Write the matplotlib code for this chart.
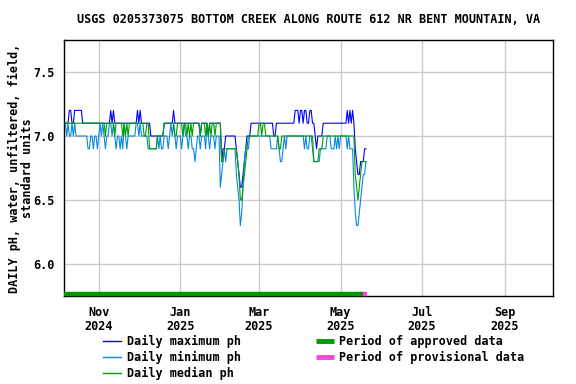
import matplotlib
matplotlib.use("Agg")
import matplotlib.pyplot as plt
from matplotlib.lines import Line2D
import pandas as pd

TITLE = "USGS 0205373075 BOTTOM CREEK ALONG ROUTE 612 NR BENT MOUNTAIN, VA"
YLABEL = "DAILY pH, water, unfiltered, field,\nstandard units"

start_date = "2024-10-07"

daily_max = [
    7.1,7.1,7.1,7.2,7.2,7.1,7.1,7.2,7.2,7.2,
    7.2,7.2,7.2,7.1,7.1,7.1,7.1,7.1,7.1,7.1,
    7.1,7.1,7.1,7.1,7.1,7.1,7.1,7.1,7.1,7.1,
    7.1,7.1,7.1,7.1,7.2,7.1,7.2,7.1,7.1,7.1,
    7.1,7.1,7.1,7.1,7.1,7.1,7.1,7.1,7.1,7.1,
    7.1,7.1,7.1,7.1,7.2,7.1,7.2,7.1,7.1,7.1,
    7.1,7.1,7.1,7.1,7.0,7.0,7.0,7.0,7.0,7.0,
    7.0,7.0,7.0,7.0,7.1,7.1,7.1,7.1,7.1,7.1,
    7.1,7.2,7.1,7.1,7.1,7.1,7.1,7.1,7.1,7.1,
    7.1,7.1,7.1,7.1,7.1,7.1,7.1,7.1,7.1,7.1,
    7.1,7.0,7.1,7.1,7.1,7.1,7.1,7.0,7.1,7.1,
    7.1,7.1,7.1,7.1,7.1,7.1,7.1,6.8,6.9,6.9,
    7.0,7.0,7.0,7.0,7.0,7.0,7.0,7.0,6.9,6.8,
    6.7,6.6,6.6,6.7,6.8,6.9,7.0,7.0,7.0,7.1,
    7.1,7.1,7.1,7.1,7.1,7.1,7.1,7.1,7.1,7.1,
    7.1,7.1,7.1,7.1,7.1,7.1,7.0,7.0,7.1,7.1,
    7.1,7.1,7.1,7.1,7.1,7.1,7.1,7.1,7.1,7.1,
    7.1,7.1,7.2,7.2,7.2,7.1,7.2,7.2,7.1,7.2,
    7.2,7.1,7.1,7.2,7.2,7.1,7.1,7.0,6.9,7.0,
    7.0,7.0,7.0,7.1,7.1,7.1,7.1,7.1,7.1,7.1,
    7.1,7.1,7.1,7.1,7.1,7.1,7.1,7.1,7.1,7.1,
    7.1,7.2,7.1,7.2,7.1,7.2,7.1,6.9,6.8,6.7,
    6.7,6.8,6.8,6.8,6.9,6.9,
]

daily_min = [
    7.1,7.0,7.1,7.0,7.0,7.1,7.0,7.1,7.0,7.0,
    7.0,7.0,7.0,7.0,7.0,7.0,7.0,6.9,6.9,7.0,
    7.0,6.9,7.0,7.0,6.9,7.0,7.1,7.0,7.1,7.0,
    6.9,7.0,7.0,7.1,7.1,7.0,7.1,7.0,6.9,7.0,
    7.0,6.9,7.0,6.9,7.1,7.0,6.9,7.0,7.0,7.0,
    7.0,7.0,7.0,7.1,7.1,7.0,7.1,7.0,7.0,7.0,
    7.0,7.0,6.9,6.9,6.9,6.9,6.9,6.9,6.9,7.0,
    6.9,7.0,6.9,6.9,7.0,7.0,7.0,6.9,7.0,7.1,
    7.0,7.1,7.0,6.9,7.0,7.0,7.0,6.9,7.0,7.1,
    7.0,7.0,6.9,7.0,7.0,6.9,6.9,6.8,6.9,7.0,
    7.0,6.9,7.0,7.0,7.0,6.9,7.1,7.0,6.9,7.0,
    7.0,7.0,6.9,7.0,7.0,7.0,6.6,6.7,6.8,6.9,
    6.8,6.9,6.9,6.9,6.9,6.9,6.9,6.9,6.7,6.6,
    6.5,6.3,6.4,6.6,6.8,6.9,6.9,6.9,7.0,7.0,
    7.0,7.0,7.0,7.0,7.0,7.0,7.0,7.0,7.0,7.0,
    7.0,7.0,7.0,7.0,6.9,6.9,6.9,6.9,6.9,7.0,
    6.9,6.8,6.8,6.9,7.0,6.9,7.0,7.0,7.0,7.0,
    7.0,7.0,7.0,7.0,7.0,7.0,7.0,7.0,7.0,6.9,
    7.0,6.9,6.9,7.0,7.0,6.9,6.8,6.8,6.8,6.8,
    6.8,6.9,6.9,6.9,6.9,6.9,7.0,7.0,7.0,6.9,
    6.9,6.9,7.0,6.9,7.0,6.9,7.0,7.0,7.0,7.0,
    7.0,6.9,7.0,6.9,6.9,6.9,6.6,6.4,6.3,6.3,
    6.4,6.5,6.6,6.7,6.7,6.8,
]

daily_median = [
    7.1,7.1,7.1,7.1,7.1,7.1,7.1,7.1,7.1,7.1,
    7.1,7.1,7.1,7.1,7.1,7.1,7.1,7.1,7.1,7.1,
    7.1,7.1,7.1,7.1,7.1,7.1,7.1,7.1,7.1,7.1,
    7.0,7.1,7.1,7.1,7.1,7.1,7.1,7.0,7.1,7.1,
    7.1,7.1,7.1,7.0,7.1,7.0,7.1,7.0,7.1,7.1,
    7.1,7.1,7.1,7.1,7.1,7.1,7.1,7.1,7.1,7.0,
    7.0,7.1,7.1,6.9,6.9,6.9,6.9,6.9,6.9,7.0,
    7.0,7.0,7.0,7.0,7.1,7.1,7.1,7.1,7.1,7.1,
    7.1,7.1,7.0,7.0,7.1,7.1,7.1,7.1,7.0,7.1,
    7.1,7.0,7.1,7.0,7.1,7.0,7.1,7.1,7.1,7.1,
    7.1,7.0,7.1,7.1,7.1,7.0,7.1,7.0,7.1,7.0,
    7.1,7.1,7.0,7.1,7.1,7.1,7.1,6.8,6.8,6.9,
    6.9,6.9,6.9,6.9,6.9,6.9,6.9,6.9,6.9,6.8,
    6.7,6.5,6.5,6.6,6.7,6.8,6.9,7.0,7.0,7.0,
    7.0,7.0,7.0,7.0,7.0,7.1,7.1,7.0,7.1,7.1,
    7.0,7.0,7.0,7.0,7.0,7.0,7.0,7.0,7.0,7.0,
    6.9,6.9,7.0,7.0,7.0,7.0,7.0,7.0,7.0,7.0,
    7.0,7.0,7.0,7.0,7.0,7.0,7.0,7.0,7.0,7.0,
    7.0,7.0,7.0,7.0,7.0,7.0,6.8,6.8,6.8,6.8,
    6.9,6.9,6.9,7.0,7.0,7.0,7.0,7.0,7.0,7.0,
    7.0,7.0,7.0,7.0,7.0,7.0,7.0,7.0,7.0,7.0,
    7.0,7.0,7.0,7.0,7.0,7.0,7.0,6.7,6.6,6.5,
    6.6,6.7,6.8,6.8,6.8,6.8,
]

approved_period = ("2024-10-06", "2025-05-18")
provisional_period = ("2025-05-18", "2025-05-21")

x_ticks = ["2024-11-01", "2025-01-01", "2025-03-01", "2025-05-01", "2025-07-01", "2025-09-01"]
x_tick_labels = ["Nov\n2024", "Jan\n2025", "Mar\n2025", "May\n2025", "Jul\n2025", "Sep\n2025"]
y_ticks = [6.0, 6.5, 7.0, 7.5]
y_tick_labels = ["6.0", "6.5", "7.0", "7.5"]

legend_left = ["Daily maximum ph", "Daily minimum ph", "Daily median ph"]
legend_right = ["Period of approved data", "Period of provisional data"]

C_MAX = "#0000ff"
C_MIN = "#0a88d8"
C_MED = "#00a000"
C_APP = "#009900"
C_PROV = "#ff44dd"

FONT = "DejaVu Sans Mono"
FS = 8.5

dates = pd.date_range(start_date, periods=len(daily_max), freq="D")

fig = plt.figure(figsize=(5.76, 3.84), dpi=100)
ax = fig.add_axes([64/576, 1-296/384, (553-64)/576, (296-40)/384])

ax.plot(dates, daily_max, color=C_MAX, lw=0.8, zorder=3)
ax.plot(dates, daily_min, color=C_MIN, lw=0.8, zorder=4)
ax.plot(dates, daily_median, color=C_MED, lw=0.8, zorder=5)

trans = matplotlib.transforms.blended_transform_factory(ax.transData, ax.transAxes)
ax.plot(pd.to_datetime(list(approved_period)), [0.008, 0.008], color=C_APP, lw=3.2,
        transform=trans, solid_capstyle="butt", zorder=6, clip_on=False)
ax.plot(pd.to_datetime(list(provisional_period)), [0.008, 0.008], color=C_PROV, lw=3.2,
        transform=trans, solid_capstyle="butt", zorder=6, clip_on=False)

ax.set_xlim(pd.Timestamp("2024-10-06"), pd.Timestamp("2025-10-07"))
ax.set_ylim(5.75, 7.75)
ax.set_xticks(pd.to_datetime(x_ticks))
ax.set_xticklabels(x_tick_labels, fontfamily=FONT, fontweight="bold", fontsize=FS, linespacing=1.15)
ax.set_yticks(y_ticks)
ax.set_yticklabels(y_tick_labels, fontfamily=FONT, fontweight="bold", fontsize=FS)
ax.tick_params(axis="both", length=0)
ax.tick_params(axis="y", pad=7)
ax.tick_params(axis="x", pad=7)
ax.grid(True, color="#cccccc", lw=1.0)
ax.set_axisbelow(True)
for s in ax.spines.values():
    s.set_linewidth(1.0)
    s.set_color("black")

ax.set_title(TITLE, fontfamily=FONT, fontweight="bold", fontsize=FS, pad=12)
fig.text(21/576, 1-168/384, YLABEL, rotation=90, ha="center", va="center",
         fontfamily=FONT, fontweight="bold", fontsize=FS, linespacing=1.0)

# Legend
rows_y = [341, 357, 373]
for lab, col, yy in zip(legend_left, [C_MAX, C_MIN, C_MED], rows_y):
    fig.add_artist(Line2D([103/576, 121/576], [1-yy/384]*2, color=col, lw=1.0))
    fig.text(127/576, 1-yy/384, lab, ha="left", va="center",
             fontfamily=FONT, fontweight="bold", fontsize=FS)
for lab, col, yy in zip(legend_right, [C_APP, C_PROV], rows_y[:2]):
    fig.add_artist(Line2D([316/576, 334/576], [1-yy/384]*2, color=col, lw=3.5,
                          solid_capstyle="butt"))
    fig.text(339/576, 1-yy/384, lab, ha="left", va="center",
             fontfamily=FONT, fontweight="bold", fontsize=FS)

fig.savefig("out.png", dpi=100)
